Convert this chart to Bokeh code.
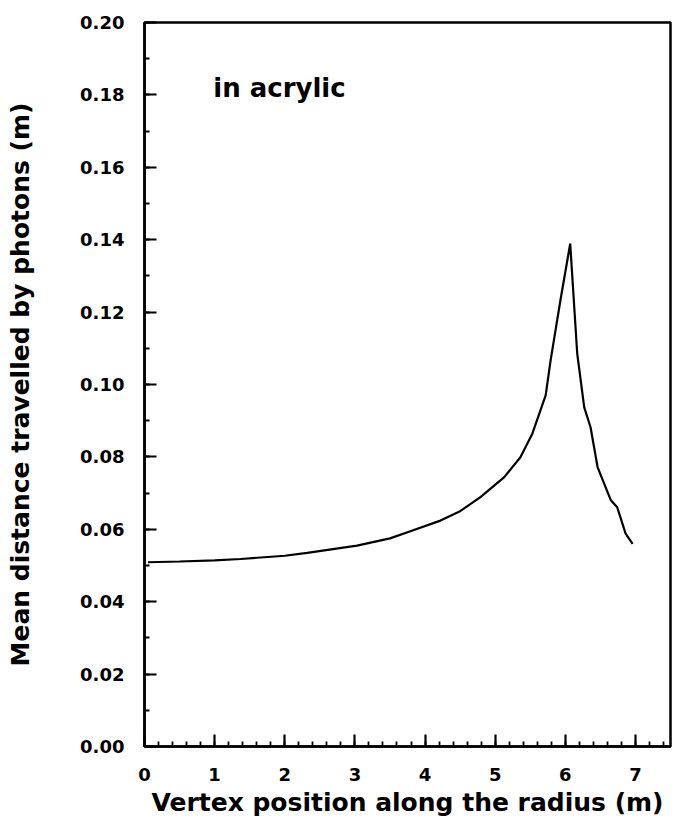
from bokeh.plotting import figure
from bokeh.models import SingleIntervalTicker, NumeralTickFormatter, Range1d, Label
from bokeh.embed import file_html
from bokeh.resources import INLINE

# Data
vertex_pos = [0.05, 0.5, 1.0, 1.37, 2.0, 2.32, 3.03, 3.5, 3.75, 4.22, 4.5, 4.79, 5.13, 5.36,
              5.53, 5.72, 5.79, 5.93, 6.07, 6.17, 6.27, 6.36, 6.46, 6.65, 6.74, 6.86, 6.96]
mean_dist = [0.0509, 0.0511, 0.0514, 0.0518, 0.0527, 0.0535, 0.0555, 0.0575, 0.0592, 0.0624,
             0.0650, 0.0689, 0.0744, 0.0799, 0.0864, 0.0970, 0.1066, 0.1232, 0.1389, 0.1085,
             0.0937, 0.0882, 0.0772, 0.0680, 0.0661, 0.0588, 0.0560]

x_title = "Vertex position along the radius (m)"
y_title = "Mean distance travelled by photons (m)"
annotation = "in acrylic"

FONT = "DejaVu Sans"
X_MAX, Y_MAX = 7.5, 0.2

p = figure(width=675, height=824, output_backend="svg", toolbar_location=None,
           x_range=Range1d(0, X_MAX), y_range=Range1d(0, Y_MAX),
           min_border_left=144, min_border_right=5, min_border_top=22, min_border_bottom=78)

p.line(vertex_pos, mean_dist, line_color="black", line_width=2.2)

p.xgrid.visible = False
p.ygrid.visible = False
p.outline_line_color = "black"
p.outline_line_width = 2.5
p.background_fill_color = "white"
p.border_fill_color = "white"

p.xaxis.ticker = SingleIntervalTicker(interval=1, num_minor_ticks=5)
p.yaxis.ticker = SingleIntervalTicker(interval=0.02, num_minor_ticks=2)
p.yaxis.formatter = NumeralTickFormatter(format="0.00")

for ax in (p.xaxis[0], p.yaxis[0]):
    ax.axis_line_color = "black"
    ax.axis_line_width = 2.5
    ax.major_tick_in = 12
    ax.major_tick_out = 0
    ax.minor_tick_in = 5
    ax.minor_tick_out = 0
    ax.major_tick_line_width = 2.2
    ax.minor_tick_line_width = 1.8
    ax.major_tick_line_color = "black"
    ax.minor_tick_line_color = "black"
    ax.major_label_text_font = FONT
    ax.major_label_text_font_style = "bold"
    ax.major_label_text_font_size = "18px"
    ax.major_label_text_color = "black"
    ax.axis_label_text_font = FONT
    ax.axis_label_text_font_style = "bold"
    ax.axis_label_text_font_size = "25px"
    ax.axis_label_text_color = "black"

p.xaxis.axis_label = x_title
p.yaxis.axis_label = y_title
p.xaxis.major_label_standoff = 21
p.xaxis.axis_label_standoff = 4
p.yaxis.major_label_standoff = 20
p.yaxis.axis_label_standoff = 42

p.add_layout(Label(x=0.98, y=0.182, text=annotation, text_font=FONT,
                   text_font_style="bold", text_font_size="26px",
                   text_color="black", text_baseline="middle", text_align="left"))

open("out.html", "w").write(file_html(p, INLINE))
